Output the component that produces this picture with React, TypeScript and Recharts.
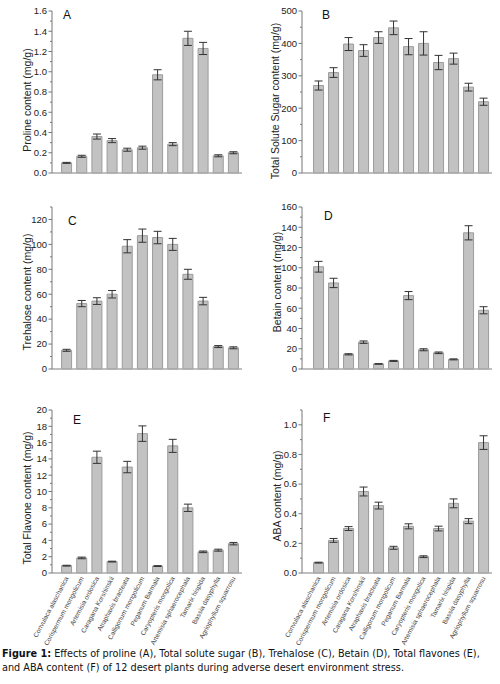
import { BarChart, Bar, XAxis, YAxis, ErrorBar } from "recharts"

const categories = [
  "Convulaca alaschanica",
  "Corispermum mongolicum",
  "Artemisia ordosica",
  "Caragana Korshinskii",
  "Atraphaxis bracteata",
  "Calligonum mongolicum",
  "Peganum Barmala",
  "Caryopteris mongolica",
  "Artemisia sphaerocephala",
  "Tamarix hispida",
  "Bassia dasyphylla",
  "Agriophyllum squarrosu",
]

const prolineVals = [0.1, 0.165, 0.36, 0.32, 0.23, 0.25, 0.97, 0.285, 1.33, 1.23, 0.17, 0.2]
const prolineErr = [0.005, 0.01, 0.025, 0.02, 0.015, 0.015, 0.05, 0.015, 0.07, 0.06, 0.01, 0.01]
const prolineTicks = [0, 0.2, 0.4, 0.6, 0.8, 1.0, 1.2, 1.4, 1.6]

const sugarVals = [270, 310, 398, 378, 418, 448, 390, 400, 341, 353, 265, 220]
const sugarErr = [14, 15, 20, 18, 18, 21, 25, 36, 22, 17, 12, 11]
const sugarTicks = [0, 100, 200, 300, 400, 500]

const trehaloseVals = [15, 52.5, 54.5, 60, 98.5, 107, 105.5, 100, 76, 54.5, 18, 17]
const trehaloseErr = [0.8, 2.5, 2.7, 3, 5.3, 5.3, 5, 4.8, 4, 3, 0.8, 0.8]
const trehaloseTicks = [0, 20, 40, 60, 80, 100, 120]

const betainVals = [101, 85, 14.5, 26.5, 5, 8, 72.5, 19, 16, 9.5, 134.5, 58]
const betainErr = [5.3, 4.6, 0.6, 1.2, 0.3, 0.5, 4, 1, 0.8, 0.5, 7, 3.5]
const betainTicks = [0, 20, 40, 60, 80, 100, 120, 140, 160]

const flavoneVals = [0.9, 1.85, 14.2, 1.4, 13, 17.1, 0.85, 15.6, 8, 2.6, 2.8, 3.6]
const flavoneErr = [0.05, 0.1, 0.75, 0.05, 0.7, 0.95, 0.05, 0.8, 0.45, 0.1, 0.12, 0.15]
const flavoneTicks = [0, 2, 4, 6, 8, 10, 12, 14, 16, 18, 20]

const abaVals = [0.07, 0.22, 0.3, 0.55, 0.455, 0.17, 0.315, 0.11, 0.3, 0.47, 0.35, 0.88]
const abaErr = [0.003, 0.013, 0.013, 0.03, 0.023, 0.01, 0.017, 0.006, 0.016, 0.03, 0.017, 0.046]
const abaTicks = [0, 0.2, 0.4, 0.6, 0.8, 1.0]

const AXIS_FONT = "'Liberation Sans', Arial, sans-serif"

function YTick(props: any) {
  const { x, y, payload, majors, digits } = props
  const v = payload.value
  const major = majors.some((m: number) => Math.abs(m - v) < 1e-9)
  return (
    <g>
      <line x1={x - (major ? 3.5 : 2)} x2={x} y1={y} y2={y} stroke="#777" />
      {major && (
        <text x={x - 5} y={y} dy={3.3} textAnchor="end" fontSize={9.5} fill="#222" fontFamily={AXIS_FONT}>
          {v.toFixed(digits)}
        </text>
      )}
    </g>
  )
}

function CatTick(props: any) {
  const { x, y, payload, show } = props
  if (!show) return <g />
  return (
    <text
      transform={`translate(${x},${y}) rotate(-62)`}
      textAnchor="end"
      dy={2.5}
      fontSize={6.6}
      fill="#444"
      fontFamily={AXIS_FONT}
    >
      {payload.value}
    </text>
  )
}

type PanelProps = {
  id: string
  vals: number[]
  errs: number[]
  majors: number[]
  max: number
  digits: number
  left: number
  top: number
  height: number
  marginTop: number
  marginBottom: number
  xHeight: number
  padLeft: number
  labels?: boolean
}

function Panel(p: PanelProps) {
  const data = categories.map((name, i) => ({ name, v: p.vals[i], e: p.errs[i] }))
  const step = p.majors[1] - p.majors[0]
  const ticks: number[] = []
  p.majors.forEach((m, i) => {
    ticks.push(m)
    if (i < p.majors.length - 1 || m + step / 2 <= p.max + 1e-9) ticks.push(m + step / 2)
  })
  return (
    <div style={{ position: "absolute", left: p.left, top: p.top, width: 250, height: p.height, overflow: "hidden" }}>
      <BarChart
        id={p.id}
        width={250}
        height={p.height}
        data={data}
        margin={{ top: p.marginTop, right: 8, left: 0, bottom: p.marginBottom }}
        barCategoryGap="17%"
      >
        <XAxis
          dataKey="name"
          height={p.xHeight}
          axisLine={{ stroke: "#aaa", strokeWidth: 1.5 }}
          tickLine={false}
          tickSize={0}
          tickMargin={4}
          interval={0}
          padding={{ left: p.padLeft, right: 1 }}
          tick={<CatTick show={!!p.labels} />}
        />
        <YAxis
          width={52}
          domain={[0, p.max]}
          ticks={ticks}
          interval={0}
          tickSize={0}
          tickMargin={0}
          tickLine={false}
          axisLine={{ stroke: "#777" }}
          tick={<YTick majors={p.majors} digits={p.digits} />}
        />
        <Bar dataKey="v" fill="#c2c2c2" stroke="#9c9c9c" strokeWidth={1} isAnimationActive={false}>
          <ErrorBar dataKey="e" width={4} stroke="#333" strokeWidth={1} direction="y" />
        </Bar>
      </BarChart>
    </div>
  )
}

function YTitle({ text, cx, cy }: { text: string; cx: number; cy: number }) {
  return (
    <div
      style={{
        position: "absolute",
        left: cx,
        top: cy,
        transform: "translate(-50%, -50%) rotate(-90deg)",
        whiteSpace: "nowrap",
        fontFamily: AXIS_FONT,
        fontSize: 10.5,
        color: "#222",
        lineHeight: "12px",
      }}
    >
      {text}
    </div>
  )
}

function Letter({ text, x, base }: { text: string; x: number; base: number }) {
  return (
    <div
      style={{
        position: "absolute",
        left: x,
        top: base - 11,
        fontFamily: AXIS_FONT,
        fontSize: 12,
        lineHeight: "13px",
        color: "#111",
      }}
    >
      {text}
    </div>
  )
}

export default function App() {
  return (
    <div style={{ position: "absolute", left: 0, top: 0, width: 500, height: 684, background: "#fff", overflow: "hidden" }}>
      <Panel id="pa" vals={prolineVals} errs={prolineErr} majors={prolineTicks} max={1.6} digits={1}
        left={0} top={0} height={180} marginTop={11} marginBottom={6} xHeight={1} padLeft={7} />
      <Panel id="pb" vals={sugarVals} errs={sugarErr} majors={sugarTicks} max={500} digits={0}
        left={250} top={0} height={180} marginTop={11} marginBottom={6} xHeight={1} padLeft={9} />
      <Panel id="pc" vals={trehaloseVals} errs={trehaloseErr} majors={trehaloseTicks} max={130} digits={0}
        left={0} top={195} height={181} marginTop={12} marginBottom={6} xHeight={1} padLeft={7} />
      <Panel id="pd" vals={betainVals} errs={betainErr} majors={betainTicks} max={160} digits={0}
        left={250} top={195} height={181} marginTop={12} marginBottom={6} xHeight={1} padLeft={9} />
      <Panel id="pe" vals={flavoneVals} errs={flavoneErr} majors={flavoneTicks} max={20} digits={0}
        left={0} top={400} height={250} marginTop={10} marginBottom={7} xHeight={70} padLeft={7} labels />
      <Panel id="pf" vals={abaVals} errs={abaErr} majors={abaTicks} max={1.1} digits={1}
        left={250} top={400} height={250} marginTop={10} marginBottom={7} xHeight={70} padLeft={9} labels />

      <YTitle text="Proline content (mg/g)" cx={27} cy={100} />
      <YTitle text="Total Solute Sugar content (mg/g)" cx={275} cy={101} />
      <YTitle text="Trehalose content (mg/g)" cx={27} cy={292} />
      <YTitle text="Betain content (mg/g)" cx={277} cy={282} />
      <YTitle text="Total Flavone content (mg/g)" cx={27} cy={498} />
      <YTitle text="ABA content (mg/g)" cx={277} cy={496} />

      <Letter text="A" x={63} base={20} />
      <Letter text="B" x={322} base={20} />
      <Letter text="C" x={68} base={226} />
      <Letter text="D" x={324} base={221} />
      <Letter text="E" x={73} base={425} />
      <Letter text="F" x={323} base={423} />

      <div
        style={{
          position: "absolute",
          left: 2,
          top: 647,
          width: 498,
          fontFamily: "'DejaVu Sans', sans-serif",
          fontSize: 9.7,
          lineHeight: "14px",
          color: "#111",
          whiteSpace: "nowrap",
        }}
      >
        <b>Figure 1:</b> Effects of proline (A), Total solute sugar (B), Trehalose (C), Betain (D), Total flavones (E),
        <br />
        and ABA content (F) of 12 desert plants during adverse desert environment stress.
      </div>
    </div>
  )
}
